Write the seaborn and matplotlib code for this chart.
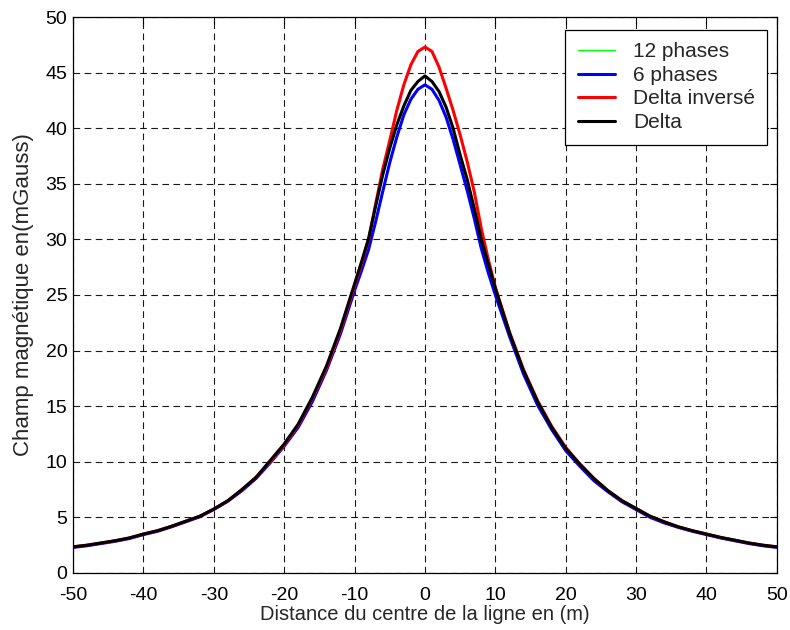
import numpy as np
import pandas as pd
import matplotlib
matplotlib.use("Agg")
import matplotlib.pyplot as plt
import seaborn as sns

# Distance (m)
distance = [-50, -48, -46, -44, -42, -40, -38, -36, -34, -32, -30, -28, -26, -24, -22,
            -20, -18, -16, -14, -12, -10, -9, -8, -7, -6, -5, -4, -3, -2, -1, 0,
            1, 2, 3, 4, 5, 6, 7, 8, 9, 10, 12, 14, 16, 18, 20, 22, 24, 26, 28,
            30, 32, 34, 36, 38, 40, 42, 44, 46, 48, 50]

# Magnetic field (mGauss)
delta = [2.35, 2.5, 2.7, 2.9, 3.15, 3.5, 3.8, 4.2, 4.65, 5.1, 5.75, 6.5, 7.5, 8.6, 10.1,
         11.6, 13.4, 15.8, 18.6, 22.0, 26.0, 28.0, 30.1, 33.0, 35.8, 38.2, 40.3, 42.0, 43.4, 44.2, 44.7,
         44.2, 43.3, 41.9, 40.0, 37.6, 35.4, 32.8, 30.0, 27.8, 25.6, 21.6, 18.2, 15.4, 13.1, 11.2, 9.8,
         8.5, 7.4, 6.5, 5.8, 5.1, 4.6, 4.15, 3.8, 3.5, 3.2, 2.95, 2.7, 2.5, 2.35]

delta_inverse = [2.35, 2.5, 2.7, 2.9, 3.15, 3.5, 3.8, 4.2, 4.65, 5.1, 5.75, 6.5, 7.5, 8.6, 10.0,
                 11.5, 13.3, 15.7, 18.4, 21.8, 25.8, 27.8, 30.0, 33.2, 36.3, 38.9, 41.6, 43.9, 45.7, 46.9, 47.3,
                 46.9, 45.5, 43.6, 41.6, 39.4, 37.0, 34.3, 31.0, 28.2, 25.7, 21.7, 18.3, 15.5, 13.2, 11.3, 9.8,
                 8.5, 7.4, 6.5, 5.8, 5.1, 4.6, 4.15, 3.8, 3.5, 3.2, 2.95, 2.7, 2.5, 2.35]

six_phases = [2.3, 2.45, 2.65, 2.85, 3.1, 3.45, 3.75, 4.15, 4.6, 5.05, 5.7, 6.45, 7.4, 8.5, 9.9,
              11.4, 13.1, 15.4, 18.2, 21.5, 25.4, 27.2, 29.1, 31.6, 34.3, 36.9, 39.2, 41.2, 42.6, 43.5, 43.9,
              43.5, 42.5, 41.0, 39.0, 36.7, 34.4, 31.9, 29.2, 27.0, 25.0, 21.3, 17.9, 15.1, 12.9, 11.0, 9.6,
              8.3, 7.3, 6.4, 5.7, 5.0, 4.5, 4.1, 3.75, 3.45, 3.15, 2.9, 2.65, 2.45, 2.3]

twelve_phases = list(six_phases)

series_names = ["12 phases", "6 phases", "Delta invers\u00e9", "Delta"]
series_colors = ["#00ff00", "#0000ff", "#ff0000", "#000000"]
series_widths = [1.0, 2.2, 2.2, 2.2]
series_values = [twelve_phases, six_phases, delta_inverse, delta]

sns.set_style("white")
plt.rcParams["font.family"] = ["Liberation Sans", "DejaVu Sans"]
plt.rcParams["axes.unicode_minus"] = False

fig = plt.figure(figsize=(7.9, 6.3), dpi=100)
ax = fig.add_axes([0.0924, 0.0905, 0.891, 0.8825])

for name, col, lw, vals in zip(series_names, series_colors, series_widths, series_values):
    df = pd.DataFrame({"x": distance, "y": vals})
    sns.lineplot(data=df, x="x", y="y", ax=ax, color=col, linewidth=lw, label=name,
                 sort=False, estimator=None)

ax.set_xlim(-50, 50)
ax.set_ylim(0, 50)
ax.set_xticks(np.arange(-50, 51, 10))
ax.set_yticks(np.arange(0, 51, 5))
ax.grid(True, color="black", linestyle=(0, (6, 4)), linewidth=0.8, alpha=0.9)
ax.tick_params(direction="in", top=True, right=True, length=5, width=0.8, labelsize=14,
               colors="black")
ax.tick_params(axis="x", pad=10)
ax.tick_params(axis="y", pad=4)
for s in ax.spines.values():
    s.set_color("black")
    s.set_linewidth(0.9)

ax.set_xlabel("Distance du centre de la ligne en (m)", fontsize=14.5, labelpad=1)
ax.set_ylabel("Champ magn\u00e9tique en(mGauss)", fontsize=16, labelpad=8)

leg = ax.legend(loc="upper right", fontsize=15, frameon=True, fancybox=False,
                edgecolor="black", framealpha=1, bbox_to_anchor=(0.9865, 0.977),
                borderaxespad=0.0, handlelength=1.8, labelspacing=0.22, borderpad=0.6,
                handletextpad=0.85)
leg.get_frame().set_linewidth(0.9)

fig.savefig("out.png", dpi=100)
